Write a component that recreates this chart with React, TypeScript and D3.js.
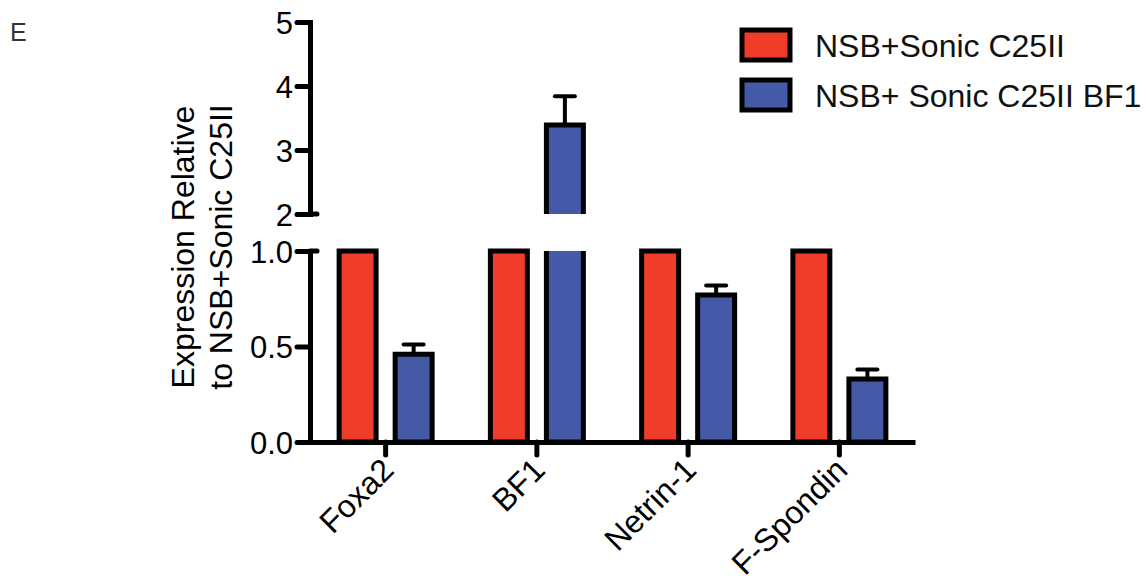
import React, { useEffect, useRef } from 'react'
import * as d3 from 'd3'

const categories = ['Foxa2', 'BF1', 'Netrin-1', 'F-Spondin']
const seriesNames = ['NSB+Sonic C25II', 'NSB+ Sonic C25II BF1']
const controlValues = [1, 1, 1, 1]
const controlErrors = [0, 0, 0, 0]
const bf1Values = [0.46, 3.39, 0.77, 0.33]
const bf1Errors = [0.05, 0.45, 0.05, 0.05]
const lowerTicks = [0, 0.5, 1]
const upperTicks = [2, 3, 4, 5]
const seriesColors = ['#ef3d29', '#445aa7']

const App = () => {
    const ref = useRef<SVGSVGElement>(null)

    const width = 1146
    const height = 586
    const font = '"Liberation Sans", Arial, Helvetica, sans-serif'
    const axisX = 310
    const baseY = 442
    const breakLow = 1
    const breakHigh = 2

    useEffect(() => {
        const svg = d3.select(ref.current)
        svg.selectAll('*').remove()

        const x0 = d3.scaleBand().domain(categories).range([axisX, 915]).padding(0)
        const x1 = d3.scaleBand().domain(seriesNames).range([-46.5, 46.5]).paddingInner(0.34)
        const yLow = d3.scaleLinear().domain([0, breakLow]).range([baseY, 251])
        const yHigh = d3.scaleLinear().domain([breakHigh, 5]).range([214, 22])

        const rows = categories.flatMap((c, i) => [
            { cat: c, s: 0, value: controlValues[i], err: controlErrors[i] },
            { cat: c, s: 1, value: bf1Values[i], err: bf1Errors[i] },
        ])

        const yOf = (v: number) => (v > breakHigh ? yHigh(v) : yLow(Math.min(v, breakLow)))

        const bars = svg.append('g').attr('id', 'bars')
        rows.forEach(d => {
            const left = (x0(d.cat) as number) + x0.bandwidth() / 2 + (x1(seriesNames[d.s]) as number)
            const right = left + x1.bandwidth()
            const cx = (left + right) / 2
            const segs: { top: number; bottom: number; openTop: boolean; openBottom: boolean }[] = []
            if (d.value <= breakLow) {
                segs.push({ top: yLow(d.value), bottom: yLow(0), openTop: false, openBottom: false })
            } else {
                segs.push({ top: yLow(breakLow), bottom: yLow(0), openTop: true, openBottom: false })
                if (d.value > breakHigh) {
                    segs.push({ top: yHigh(d.value), bottom: yHigh(breakHigh), openTop: false, openBottom: true })
                }
            }

            // error bar first so the bar outline sits over its foot
            if (d.err > 0) {
                const yTop = yOf(d.value + d.err)
                bars.append('line')
                    .attr('x1', cx).attr('x2', cx)
                    .attr('y1', yOf(d.value)).attr('y2', yTop)
                    .attr('stroke', '#000').attr('stroke-width', 4)
                bars.append('line')
                    .attr('x1', cx - 10).attr('x2', cx + 10)
                    .attr('y1', yTop).attr('y2', yTop)
                    .attr('stroke', '#000').attr('stroke-width', 4)
                    .attr('stroke-linecap', 'round')
            }

            segs.forEach(sg => {
                bars.append('rect')
                    .attr('x', left).attr('y', sg.top)
                    .attr('width', right - left).attr('height', sg.bottom - sg.top)
                    .attr('fill', seriesColors[d.s])
                const p = d3.path()
                if (sg.openTop) {
                    p.moveTo(left, sg.top); p.lineTo(left, sg.bottom); p.lineTo(right, sg.bottom); p.lineTo(right, sg.top)
                } else if (sg.openBottom) {
                    p.moveTo(left, sg.bottom); p.lineTo(left, sg.top); p.lineTo(right, sg.top); p.lineTo(right, sg.bottom)
                } else {
                    p.rect(left, sg.top, right - left, sg.bottom - sg.top)
                }
                bars.append('path')
                    .attr('d', p.toString())
                    .attr('fill', 'none')
                    .attr('stroke', '#000')
                    .attr('stroke-width', 5)
            })
        })

        const styleAxis = (g: any, size: number) => {
            g.select('.domain').attr('stroke', '#000').attr('stroke-width', 5).attr('stroke-linecap', 'square')
            g.selectAll('.tick line').attr('stroke', '#000').attr('stroke-width', 5).attr('stroke-linecap', 'round')
            g.selectAll('.tick text').attr('fill', '#000').style('font-family', font).style('font-size', size + 'px')
        }

        // lower y segment
        const gLow = svg.append('g').attr('transform', 'translate(' + axisX + ',0)')
            .call(d3.axisLeft(yLow).tickValues(lowerTicks).tickSize(13).tickSizeOuter(0).tickPadding(4).tickFormat(d3.format('.1f')))
        styleAxis(gLow, 31)
        gLow.selectAll('.tick text').attr('dy', '0.36em')

        // upper y segment
        const gHigh = svg.append('g').attr('transform', 'translate(' + axisX + ',0)')
            .call(d3.axisLeft(yHigh).tickValues(upperTicks).tickSize(13).tickSizeOuter(0).tickPadding(4).tickFormat(d3.format('d')))
        styleAxis(gHigh, 31)
        gHigh.selectAll('.tick text').attr('dy', '0.36em')

        // break marks stick out to the right of the axis
        ;[yLow(breakLow), yHigh(breakHigh)].forEach(y => {
            svg.append('line')
                .attr('x1', axisX).attr('x2', axisX + 7)
                .attr('y1', y).attr('y2', y)
                .attr('stroke', '#000').attr('stroke-width', 5).attr('stroke-linecap', 'round')
        })

        // x axis
        const gX = svg.append('g').attr('transform', 'translate(0,' + baseY + ')')
            .call(d3.axisBottom(x0).tickSize(13).tickSizeOuter(0))
        styleAxis(gX, 32)
        gX.select('.domain').attr('stroke-linecap', 'butt')
        gX.selectAll('.tick text')
            .attr('text-anchor', 'end')
            .attr('x', 10).attr('y', 30).attr('dy', 0)
            .attr('transform', 'rotate(-45,10,30)')

        // axis title
        svg.append('text')
            .attr('transform', 'translate(194,247) rotate(-90)')
            .attr('text-anchor', 'middle')
            .style('font-family', font).style('font-size', '32px')
            .text('Expression Relative')
        svg.append('text')
            .attr('transform', 'translate(232,247) rotate(-90)')
            .attr('text-anchor', 'middle')
            .style('font-family', font).style('font-size', '32px')
            .text('to NSB+Sonic C25II')

        // legend
        const legend = svg.append('g').attr('transform', 'translate(742,30)')
        seriesNames.forEach((name, i) => {
            legend.append('rect')
                .attr('x', 0).attr('y', i * 50)
                .attr('width', 48).attr('height', 30)
                .attr('fill', seriesColors[i])
                .attr('stroke', '#000').attr('stroke-width', 5)
            legend.append('text')
                .attr('x', 73).attr('y', i * 50 + 27)
                .style('font-family', font).style('font-size', '32px')
                .attr('fill', '#111')
                .text(name)
        })

        // panel letter
        svg.append('text')
            .attr('x', 10).attr('y', 41)
            .style('font-family', font).style('font-size', '25px')
            .attr('fill', '#333')
            .text('E')
    }, [])

    return (
        <div>
            <svg ref={ref} width={width} height={height}
                style={{ position: 'absolute', left: 0, top: 0, background: '#fff' }}>
            </svg>
        </div>
    )
}

export default App
